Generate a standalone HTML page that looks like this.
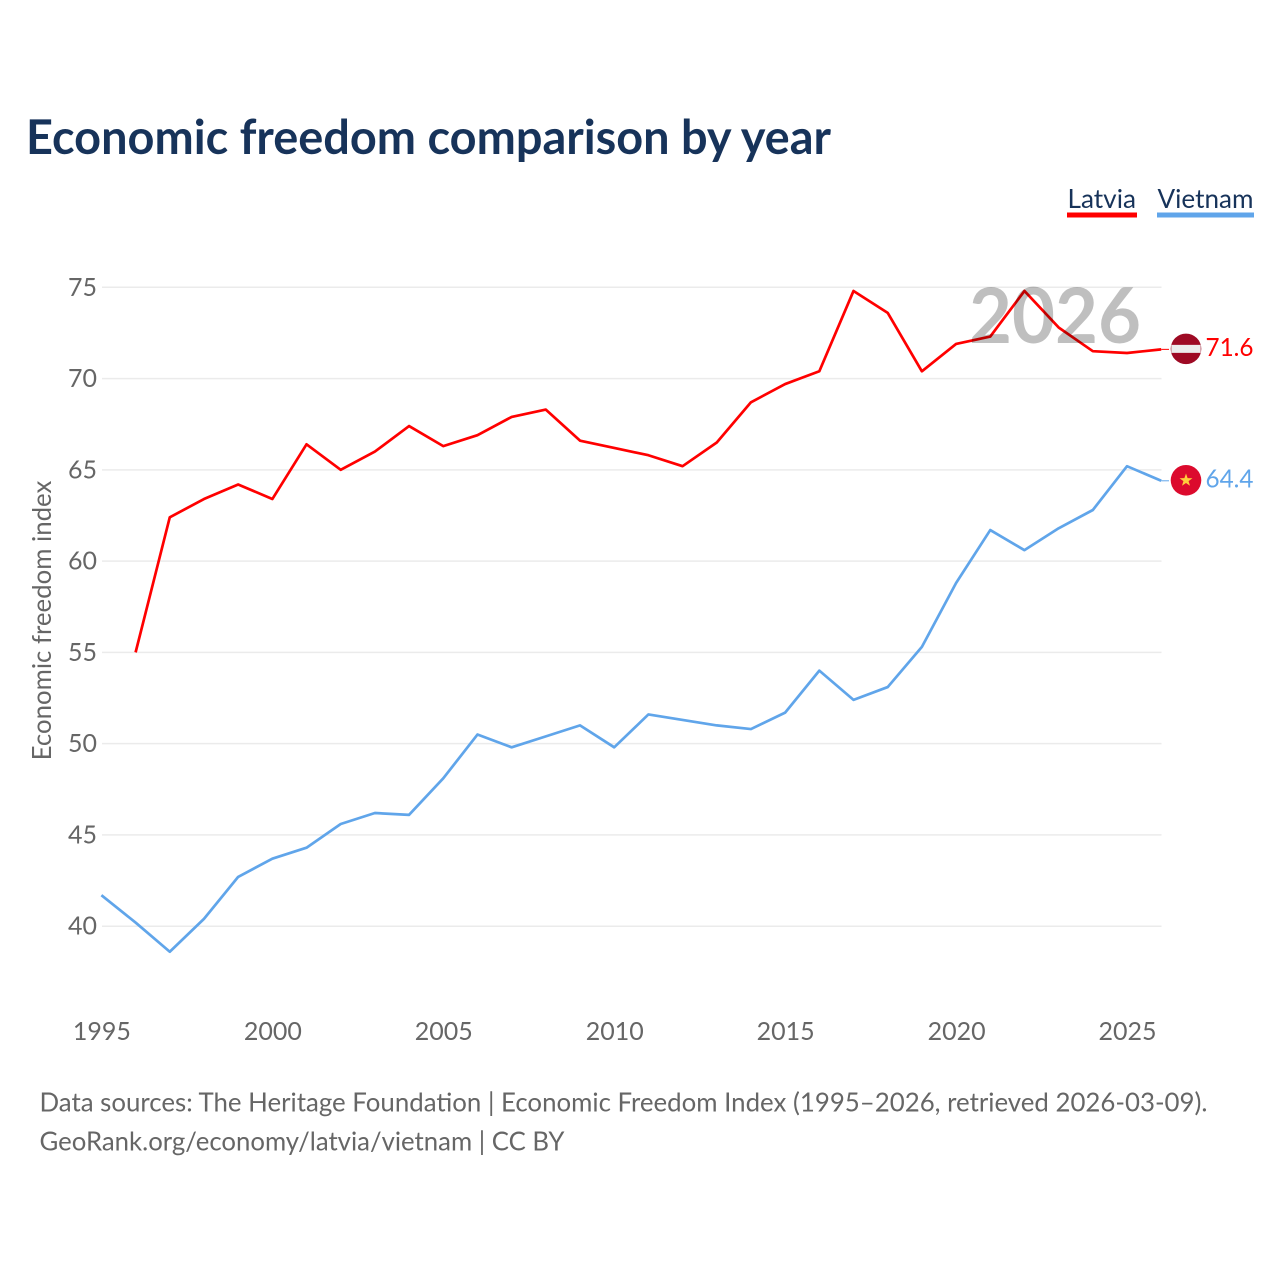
<!DOCTYPE html>
<html lang="en">
<head>
<meta charset="utf-8">
<title>Economic freedom comparison by year</title>
<style>
html,body{margin:0;padding:0;background:#fff;}
svg{display:block;}
text{font-family:"Lato","Carlito","Liberation Sans",sans-serif;}
</style>
</head>
<body>
<svg id="chart" width="1280" height="1280" viewBox="0 0 1280 1280" xmlns="http://www.w3.org/2000/svg">
  <rect width="1280" height="1280" fill="#ffffff"/>
  <text x="26" y="154" font-size="47.5" font-weight="700" fill="#17335a" textLength="805" lengthAdjust="spacingAndGlyphs">Economic freedom comparison by year</text>

  <g>
    <g>
      <text x="1067.5" y="208" font-size="26.5" fill="#17335a" textLength="68.5" lengthAdjust="spacingAndGlyphs">Latvia</text>
      <rect x="1067" y="212.5" width="70" height="5" fill="#ff0000"/>
    </g>
    <g>
      <text x="1157.5" y="208" font-size="26.5" fill="#17335a" textLength="96" lengthAdjust="spacingAndGlyphs">Vietnam</text>
      <rect x="1157" y="212.5" width="97" height="5" fill="#60a5ea"/>
    </g>
  </g>

  <g id="grid"></g>
  <g id="yticks"></g>
  <g id="xticks"></g>
  <text transform="translate(51 620.5) rotate(-90)" text-anchor="middle" font-size="25.8" fill="#666666">Economic freedom index</text>

  <g id="series"></g>
  <text x="969" y="343" font-size="77" font-weight="700" fill="#000000" fill-opacity="0.25" textLength="172" lengthAdjust="spacingAndGlyphs">2026</text>
  <g id="endmarks"></g>

  <text x="39.5" y="1111.5" font-size="26" fill="#666666" textLength="1168" lengthAdjust="spacingAndGlyphs">Data sources: The Heritage Foundation | Economic Freedom Index (1995–2026, retrieved 2026-03-09).</text>
  <text x="39.5" y="1150.5" font-size="26" fill="#666666" textLength="525" lengthAdjust="spacingAndGlyphs">GeoRank.org/economy/latvia/vietnam | CC BY</text>
</svg>
<script>
const years = [1995,1996,1997,1998,1999,2000,2001,2002,2003,2004,2005,2006,2007,2008,2009,2010,2011,2012,2013,2014,2015,2016,2017,2018,2019,2020,2021,2022,2023,2024,2025,2026];
const latviaValues = [null,55.0,62.4,63.4,64.2,63.4,66.4,65.0,66.0,67.4,66.3,66.9,67.9,68.3,66.6,66.2,65.8,65.2,66.5,68.7,69.7,70.4,74.8,73.6,70.4,71.9,72.3,74.8,72.8,71.5,71.4,71.6];
const vietnamValues = [41.7,40.2,38.6,40.4,42.7,43.7,44.3,45.6,46.2,46.1,48.1,50.5,49.8,50.4,51.0,49.8,51.6,51.3,51.0,50.8,51.7,54.0,52.4,53.1,55.3,58.8,61.7,60.6,61.8,62.8,65.2,64.4];
const yTickLabels = [40,45,50,55,60,65,70,75];
const xTickLabels = [1995,2000,2005,2010,2015,2020,2025];

const NS = 'http://www.w3.org/2000/svg';
const xScale = function (year) { return 101.4 + (year - 1995) * (1161.2 - 101.4) / 31; };
const yScale = function (value) { return 926.2 - (value - 40) * (926.2 - 287.3) / 35; };

function make(tag, parent, attrs, content) {
  const node = document.createElementNS(NS, tag);
  Object.keys(attrs).forEach(function (key) { node.setAttribute(key, attrs[key]); });
  if (content !== undefined) node.textContent = content;
  parent.appendChild(node);
  return node;
}

const gridGroup = document.getElementById('grid');
const yGroup = document.getElementById('yticks');
const xGroup = document.getElementById('xticks');
const seriesGroup = document.getElementById('series');
const endGroup = document.getElementById('endmarks');

yTickLabels.forEach(function (tick) {
  const gridline = make('line', gridGroup, {x1: 102, x2: 1161.5, y1: yScale(tick), y2: yScale(tick), stroke: '#ebebeb', 'stroke-width': 1.5});
  
  
  const label = make('text', yGroup, {x: 97, y: yScale(tick) + 8.5, 'text-anchor': 'end', 'font-size': 25, fill: '#666666'}, String(tick));
  
  
});

xTickLabels.forEach(function (tick) {
  const label = make('text', xGroup, {x: xScale(tick) + 0.5, y: 1040, 'text-anchor': 'middle', 'font-size': 25, fill: '#666666'}, String(tick));
  
  
});

function linePath(values) {
  let d = '';
  values.forEach(function (value, i) {
    if (value === null) return;
    d += (d ? 'L' : 'M') + xScale(years[i]).toFixed(2) + ' ' + yScale(value).toFixed(2);
  });
  return d;
}

const latviaLine = make('path', seriesGroup, {d: linePath(latviaValues), fill: 'none', stroke: '#ff0000', 'stroke-width': 2.7, 'stroke-linejoin': 'round'});


const vietnamLine = make('path', seriesGroup, {d: linePath(vietnamValues), fill: 'none', stroke: '#60a5ea', 'stroke-width': 2.7, 'stroke-linejoin': 'round'});



const lastIndex = years.length - 1;
const latviaY = yScale(latviaValues[lastIndex]);
const vietnamY = yScale(vietnamValues[lastIndex]);
const flagX = 1186;

const latviaStub = make('line', endGroup, {x1: 1161.2, x2: 1169, y1: latviaY, y2: latviaY, stroke: '#ff0000', 'stroke-width': 1});


const vietnamStub = make('line', endGroup, {x1: 1161.2, x2: 1169, y1: vietnamY, y2: vietnamY, stroke: '#60a5ea', 'stroke-width': 1});



const latviaFlag = make('circle', endGroup, {cx: flagX, cy: latviaY - 0.5, r: 15.3, fill: '#9e0a24'});


const latviaBand = make('rect', endGroup, {x: flagX - 14.7, y: latviaY - 4.5, width: 29.4, height: 8, fill: '#ececec'});


const latviaLabel = make('text', endGroup, {x: 1205.5, y: latviaY + 6.5, 'font-size': 25.5, fill: '#ff0000', textLength: 48, lengthAdjust: 'spacingAndGlyphs'}, latviaValues[lastIndex].toFixed(1));



const vietnamFlag = make('circle', endGroup, {cx: flagX, cy: vietnamY - 0.5, r: 15.3, fill: '#dc0a2d'});


let starPoints = '';
for (let k = 0; k < 10; k++) {
  const radius = k % 2 === 0 ? 6.8 : 2.7;
  const angle = -Math.PI / 2 + k * Math.PI / 5;
  starPoints += (flagX + radius * Math.cos(angle)).toFixed(2) + ',' + (vietnamY - 0.5 + radius * Math.sin(angle)).toFixed(2) + ' ';
}
const vietnamStar = make('polygon', endGroup, {points: starPoints, fill: '#ffcd3c'});


const vietnamLabel = make('text', endGroup, {x: 1205.5, y: vietnamY + 6.5, 'font-size': 25.5, fill: '#60a5ea', textLength: 48, lengthAdjust: 'spacingAndGlyphs'}, vietnamValues[lastIndex].toFixed(1));


</script>
</body>
</html>
